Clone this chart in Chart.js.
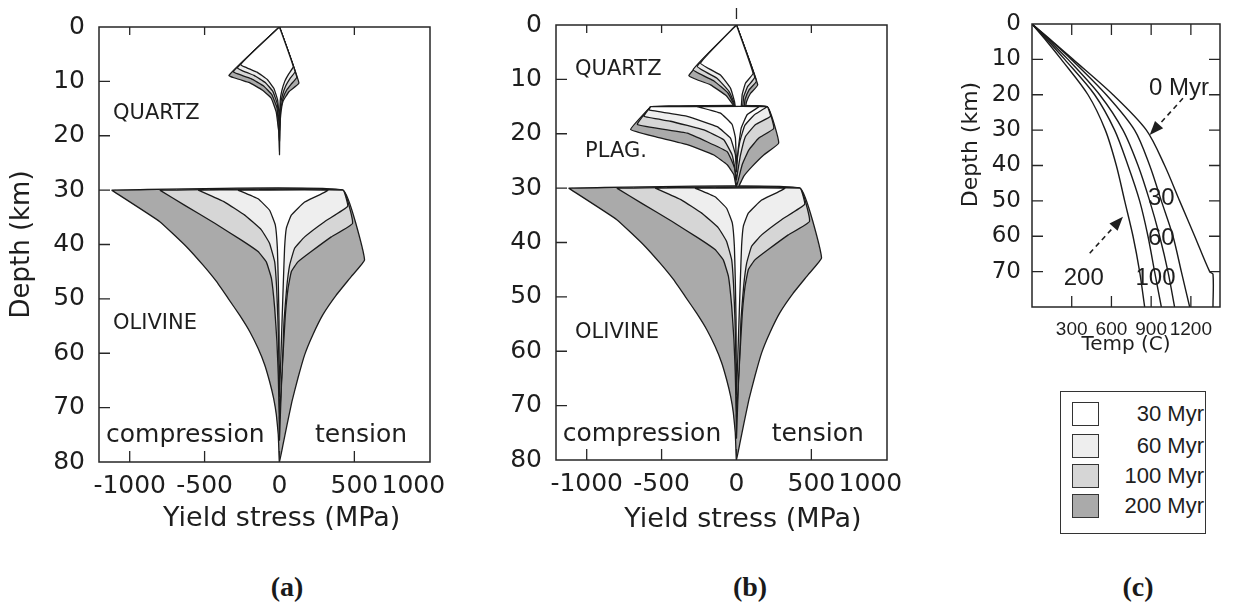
<!DOCTYPE html>
<html><head><meta charset="utf-8">
<script src="https://cdn.jsdelivr.net/npm/chart.js@4.4.1/dist/chart.umd.min.js"></script>
<style>
html,body{margin:0;padding:0;background:#fff;}
body{width:1233px;height:602px;position:relative;overflow:hidden;color:#1e1e1e;}
canvas{position:absolute;}
#ca{left:0;top:0;}
#cb{left:457px;top:0;}
#cc{left:940px;top:0;}
.panel{position:absolute;top:571px;line-height:32px;font-family:"Liberation Serif",serif;font-weight:bold;font-size:28px;transform:translateX(-50%);color:#1a1a1a;}
#legend{position:absolute;left:1060px;top:391px;width:146px;height:143px;border:1.5px solid #333;box-sizing:border-box;font-family:"Liberation Sans",sans-serif;font-size:22px;color:#1e1e1e;}
.row{position:absolute;left:11px;right:1px;height:24px;}
.sw{position:absolute;left:0;top:0;width:27px;height:24px;border:1.5px solid #333;box-sizing:border-box;}
.lab{position:absolute;right:0;top:0;line-height:24px;white-space:nowrap;}
</style></head>
<body>
<canvas id="ca" width="470" height="540"></canvas>
<canvas id="cb" width="470" height="538"></canvas>
<canvas id="cc" width="300" height="360"></canvas>
<div class="panel" style="left:287px">(a)</div>
<div class="panel" style="left:750px">(b)</div>
<div class="panel" style="left:1138px">(c)</div>
<div id="legend"></div>
<script>
// ---------------- data ----------------
const stressTicks = [-1000, -500, 0, 500, 1000];
const depthTicks = [0, 10, 20, 30, 40, 50, 60, 70, 80];
const tempTicks = [300, 600, 900, 1200];
const depthTicksC = [0, 10, 20, 30, 40, 50, 60, 70];
const legendAges = ['30 Myr', '60 Myr', '100 Myr', '200 Myr'];

// Olivine envelopes (stress MPa, depth km), same in (a) and (b)
const oliv200Comp = [[-1121,30],[-799,35.8],[-621,40.4],[-510,43.8],[-421,46.8],[-343,49.9],[-266,53.0],[-199,56.0],[-143,59.1],[-99,62.1],[-66,65.2],[-39,68.3],[-21,71.3],[-8,75.0],[0,80]];
const oliv200Tens = [[423,30],[568,42.8],[479,45.9],[379,49.3],[290,52.9],[223,56.6],[168,60.3],[123,64.6],[83,68.9],[50,73.2],[23,76.9],[0,80]];
const oliv100Comp = [[-799,30],[-632,32.8],[-432,36.1],[-254,39.2],[-143,41.3],[-88,43.2],[-54,46.2],[-32,51.7],[-17,57.9],[-8,64.0],[-2,71.3],[0,76]];
const oliv100Tens = [[423,30],[488,36.1],[346,38.6],[212,41.3],[123,43.2],[79,45.0],[57,48.1],[39,53.0],[26,59.1],[14,65.2],[6,71.3],[0,76]];
const oliv60Comp = [[-543,30],[-366,32.2],[-232,34.6],[-121,37.3],[-66,39.8],[-32,43.2],[-19,48.0],[-10,54.2],[-3,62.1],[0,72]];
const oliv60Tens = [[423,30],[455,33.0],[301,35.8],[168,38.6],[101,40.7],[68,43.8],[48,48.0],[30,54.2],[19,62.1],[0,72]];
const oliv30Comp = [[-277,30],[-143,31.6],[-66,33.7],[-28,36.4],[-14,40.7],[-8,46.8],[-3,54.2],[0,68]];
const oliv30Tens = [[323,30],[168,32.2],[79,34.6],[46,37.0],[34,40.7],[26,46.8],[17,54.2],[0,68]];

// Quartz envelopes, panel (a)
const quartzA200Comp = [[-337,8.9],[-203,10.2],[-115,11.6],[-55,13.1],[-22,15.6],[-5,19.2],[0,23.5]];
const quartzA200Tens = [[130,10.3],[63,11.9],[23,13.7],[8,16.2],[2,19.2],[0,23.5]];
const quartzA100Comp = [[-308,8.2],[-190,9.5],[-108,10.8],[-52,12.4],[-16,14.9],[0,21]];
const quartzA100Tens = [[116,9.2],[78,10.5],[50,11.5],[25,13.0],[7,15.3],[0,21]];
const quartzA60Comp = [[-281,7.5],[-170,8.9],[-95,10.2],[-45,11.8],[-14,14.2],[0,19]];
const quartzA60Tens = [[104,8.2],[70,9.5],[42,10.8],[20,12.5],[6,14.5],[0,19]];
const quartzA30Comp = [[-259,6.9],[-150,8.3],[-80,9.7],[-37,11.3],[-12,13.5],[0,17]];
const quartzA30Tens = [[92,7.3],[60,8.7],[35,10.0],[15,11.8],[5,13.5],[0,17]];

// Quartz envelopes, panel (b) (cut at 15 km)
const quartzB200Comp = [[-318,9.3],[-173,11.0],[-68,13.0],[-22,14.7],[-16,15]];
const quartzB200Tens = [[142,11.0],[93,12.6],[67,14.1],[60,15]];
const quartzB100Comp = [[-289,8.2],[-150,10.3],[-57,12.5],[-17,14.6],[-13,15]];
const quartzB100Tens = [[133,10.3],[85,11.9],[57,13.7],[50,15]];
const quartzB60Comp = [[-262,7.6],[-130,9.8],[-50,12.2],[-15,14.4],[-10,15]];
const quartzB60Tens = [[122,9.6],[75,11.3],[48,13.2],[40,15]];
const quartzB30Comp = [[-240,7.0],[-107,9.2],[-40,11.6],[-13,14.1],[-7,15]];
const quartzB30Tens = [[111,8.9],[60,10.7],[38,12.8],[31,15]];

// Plagioclase envelopes, panel (b)
const plag200Comp = [[-573,15],[-707,19.2],[-551,20.5],[-329,22.0],[-151,23.9],[-62,25.7],[-18,27.5],[0,30]];
const plag200Tens = [[204,15],[282,21.7],[182,23.9],[105,26.0],[49,27.8],[15,29.7],[0,30]];
const plag100Comp = [[-573,15],[-662,18.3],[-329,19.9],[-62,23.3],[-13,26.3],[0,29.7]];
const plag100Tens = [[204,15],[249,19.0],[149,20.8],[82,23.0],[38,25.7],[12,28.5],[0,29.7]];
const plag60Comp = [[-573,15],[-618,16.8],[-440,17.7],[-218,19.3],[-85,21.1],[-29,23.9],[-7,26.9],[0,28.5]];
const plag60Tens = [[204,15],[227,16.8],[127,18.3],[60,20.5],[27,23.9],[8,27],[0,28.5]];
const plag30Comp = [[-573,15],[-584,15.6],[-329,16.8],[-129,18.7],[-40,20.8],[-7,23.9],[0,27]];
const plag30Tens = [[204,15],[120,16.5],[55,18.5],[22,21.5],[6,24.5],[0,27]];
const plag0Comp = [[-262,15],[-107,16.2],[-29,18.3],[-7,20.8],[0,25.5]];
const plag0Tens = [[149,15],[71,16.5],[31,19.0],[12,22.7],[0,25.5]];

// Geotherms, panel (c): [temperature C, depth km]
const geotherm0 = [[0,0],[158,5],[310,10],[612,20],[864,30],[1002,40],[1115,50],[1229,60],[1342,70],[1367,70.7],[1367,80]];
const geotherm30 = [[0,0],[151,5],[297,10],[561,20],[775,30],[889,40],[977,50],[1065,60],[1128,70],[1191,80]];
const geotherm60 = [[0,0],[139,5],[272,10],[511,20],[687,30],[801,40],[889,50],[964,60],[1027,70],[1077,80]];
const geotherm100 = [[0,0],[127,5],[247,10],[473,20],[624,30],[725,40],[813,50],[876,60],[926,70],[977,80]];
const geotherm200 = [[0,0],[114,5],[221,10],[423,20],[554,30],[637,40],[700,50],[763,60],[813,70],[851,80]];

// ---------------- styles ----------------
const ageFill = {0:'#ffffff', 30:'#ffffff', 60:'#eeeeee', 100:'#d6d6d6', 200:'#aaaaaa'};
const ageOrder = {0:0, 30:1, 60:2, 100:3, 200:4};
const ink = '#1e1e1e';

function poly(comp, tens, apex) {
  const pts = [];
  if (apex) pts.push(apex);
  comp.forEach(p => pts.push(p));
  tens.slice().reverse().forEach(p => {
    const l = pts[pts.length - 1];
    if (l[0] !== p[0] || l[1] !== p[1]) pts.push(p);
  });
  pts.push(pts[0]);
  return pts.map(p => ({x: p[0], y: p[1]}));
}
function env(age, comp, tens, apex) {
  return {data: poly(comp, tens, apex), fill: 'shape', backgroundColor: ageFill[age],
    borderColor: '#1b1b1b', borderWidth: 1.3, borderJoinStyle: 'round', pointRadius: 0,
    tension: 0.1, order: ageOrder[age]};
}

const decor = (cfg) => ({
  id: 'decor',
  afterDraw(chart) {
    const {ctx, chartArea: a, scales: {x, y}} = chart;
    ctx.save();
    ctx.strokeStyle = '#262626'; ctx.lineWidth = 1.5;
    ctx.strokeRect(a.left, a.top, a.right - a.left, a.bottom - a.top);
    ctx.lineWidth = 1.3;
    ctx.beginPath();
    const t = cfg.ticks;
    (t.bottom || []).forEach(v => { const p = x.getPixelForValue(v); ctx.moveTo(p, a.bottom); ctx.lineTo(p, a.bottom - t.len); });
    (t.top || []).forEach(v => { const p = x.getPixelForValue(v); ctx.moveTo(p, a.top); ctx.lineTo(p, a.top + t.lenTop); });
    (t.left || []).forEach(v => { const p = y.getPixelForValue(v); ctx.moveTo(a.left, p); ctx.lineTo(a.left + t.len, p); });
    (t.right || []).forEach(v => { const p = y.getPixelForValue(v); ctx.moveTo(a.right, p); ctx.lineTo(a.right - t.len, p); });
    (t.outsideTop || []).forEach(v => { const p = x.getPixelForValue(v); ctx.moveTo(p, a.top - 17); ctx.lineTo(p, a.top - 6); });
    ctx.stroke();
    (cfg.texts || []).forEach(tx => {
      ctx.font = tx.font; ctx.fillStyle = ink; ctx.textAlign = tx.align || 'left'; ctx.textBaseline = 'alphabetic';
      ctx.fillText(tx.text, x.getPixelForValue(tx.x), y.getPixelForValue(tx.y));
    });
    (cfg.arrows || []).forEach(ar => {
      const x0 = x.getPixelForValue(ar.from[0]), y0 = y.getPixelForValue(ar.from[1]);
      const x1 = x.getPixelForValue(ar.to[0]), y1 = y.getPixelForValue(ar.to[1]);
      const ang = Math.atan2(y1 - y0, x1 - x0), head = 14, hw = 5.5;
      const bx = x1 - head * Math.cos(ang), by = y1 - head * Math.sin(ang);
      ctx.strokeStyle = ink; ctx.setLineDash([5, 4]); ctx.lineWidth = 1.6;
      ctx.beginPath(); ctx.moveTo(x0, y0); ctx.lineTo(bx, by); ctx.stroke();
      ctx.setLineDash([]);
      ctx.beginPath(); ctx.moveTo(x1, y1);
      ctx.lineTo(bx + hw * Math.sin(ang), by - hw * Math.cos(ang));
      ctx.lineTo(bx - hw * Math.sin(ang), by + hw * Math.cos(ang));
      ctx.closePath(); ctx.fillStyle = ink; ctx.fill();
    });
    ctx.restore();
  }
});

function stressScales(opt) {
  return {
    x: {type: 'linear', min: -1205, max: 1005,
      afterBuildTicks: s => { s.ticks = stressTicks.map(v => ({value: v})); },
      afterFit: s => { s.height = 78; s.paddingLeft = 0; s.paddingRight = 0; },
      grid: {display: false}, border: {display: false},
      ticks: {autoSkip: false, maxRotation: 0, padding: 1, color: ink, font: {family: 'DejaVu Sans', size: 25},
        callback: v => v === 1000 ? '1000' + '\u00a0'.repeat(4) : String(v)},
      title: {display: true, text: '\u00a0'.repeat(opt.shift) + 'Yield stress (MPa)', color: ink,
        font: {family: 'DejaVu Sans', size: 27}, padding: {top: 0, bottom: opt.titlePad}}},
    y: {type: 'linear', reverse: true, min: 0, max: 80,
      afterBuildTicks: s => { s.ticks = depthTicks.map(v => ({value: v})); },
      afterFit: s => { s.width = 99; s.paddingTop = 0; s.paddingBottom = 0; },
      grid: {display: false}, border: {display: false},
      ticks: {autoSkip: false, padding: 6, color: ink, font: {family: 'DejaVu Sans', size: 25}, callback: v => String(v)},
      title: {display: opt.yTitle, text: 'Depth (km)', color: ink, font: {family: 'DejaVu Sans', size: 26}, padding: {top: 7, bottom: 0}}}
  };
}
const baseOpts = {responsive: false, animation: false, events: [],
  plugins: {legend: {display: false}, tooltip: {enabled: false}}};

const capFont = '21px "DejaVu Sans"', lowFont = '25px "DejaVu Sans"';

// ---- panel (a)
const dsA = [
  env(200, quartzA200Comp, quartzA200Tens, [0,0]), env(100, quartzA100Comp, quartzA100Tens, [0,0]),
  env(60, quartzA60Comp, quartzA60Tens, [0,0]), env(30, quartzA30Comp, quartzA30Tens, [0,0]),
  env(200, oliv200Comp, oliv200Tens), env(100, oliv100Comp, oliv100Tens),
  env(60, oliv60Comp, oliv60Tens), env(30, oliv30Comp, oliv30Tens)
];
new Chart(document.getElementById('ca'), {
  type: 'line', data: {datasets: dsA},
  options: Object.assign({}, baseOpts, {layout: {padding: {top: 27, right: 40, left: 0, bottom: 0}},
    scales: stressScales({shift: 4, titlePad: 5, yTitle: true})}),
  plugins: [decor({
    ticks: {len: 11, lenTop: 8, bottom: [-1000, -500, 0, 500], top: [-1000, -500, 500], left: [10, 20, 30, 40, 50, 60, 70]},
    texts: [
      {text: 'QUARTZ', x: -1111, y: 16.9, font: capFont},
      {text: 'OLIVINE', x: -1111, y: 55.5, font: capFont},
      {text: 'compression', x: -1158, y: 76.3, font: lowFont},
      {text: 'tension', x: 237, y: 76.3, font: lowFont}
    ]})]
});

// ---- panel (b)
const dsB = [
  env(200, quartzB200Comp, quartzB200Tens, [0,0]), env(100, quartzB100Comp, quartzB100Tens, [0,0]),
  env(60, quartzB60Comp, quartzB60Tens, [0,0]), env(30, quartzB30Comp, quartzB30Tens, [0,0]),
  env(200, plag200Comp, plag200Tens), env(100, plag100Comp, plag100Tens),
  env(60, plag60Comp, plag60Tens), env(30, plag30Comp, plag30Tens), env(0, plag0Comp, plag0Tens),
  env(200, oliv200Comp, oliv200Tens), env(100, oliv100Comp, oliv100Tens),
  env(60, oliv60Comp, oliv60Tens), env(30, oliv30Comp, oliv30Tens)
];
new Chart(document.getElementById('cb'), {
  type: 'line', data: {datasets: dsB},
  options: Object.assign({}, baseOpts, {layout: {padding: {top: 25, right: 40, left: 0, bottom: 0}},
    scales: stressScales({shift: 5, titlePad: 2, yTitle: false})}),
  plugins: [decor({
    ticks: {len: 11, lenTop: 8, bottom: [-1000, -500, 0, 500], top: [-1000, -500, 500], outsideTop: [0], left: [10, 20, 30, 40, 50, 60, 70]},
    texts: [
      {text: 'QUARTZ', x: -1078, y: 9.2, font: capFont},
      {text: 'PLAG.', x: -1011, y: 24.2, font: capFont},
      {text: 'OLIVINE', x: -1078, y: 57.6, font: capFont},
      {text: 'compression', x: -1160, y: 76.5, font: lowFont},
      {text: 'tension', x: 235, y: 76.5, font: lowFont}
    ]})]
});

// ---- panel (c)
const lineDs = g => ({data: g.map(p => ({x: p[0], y: p[1]})), fill: false, borderColor: '#1b1b1b', borderWidth: 1.4, pointRadius: 0, tension: 0.3});
const labFont = '24px "Liberation Sans"';
new Chart(document.getElementById('cc'), {
  type: 'line',
  data: {datasets: [lineDs(geotherm0), lineDs(geotherm30), lineDs(geotherm60), lineDs(geotherm100), lineDs(geotherm200)]},
  options: Object.assign({}, baseOpts, {layout: {padding: {top: 24, right: 20, left: 0, bottom: 0}},
    scales: {
      x: {type: 'linear', min: 0, max: 1420,
        afterBuildTicks: s => { s.ticks = tempTicks.map(v => ({value: v})); },
        afterFit: s => { s.height = 53; s.paddingLeft = 0; s.paddingRight = 0; },
        grid: {display: false}, border: {display: false},
        ticks: {autoSkip: false, maxRotation: 0, padding: 3, color: ink, font: {family: 'Liberation Sans', size: 19}, callback: v => String(v)},
        title: {display: true, text: 'Temp (C)', color: ink, font: {family: 'DejaVu Sans', size: 20}, padding: {top: 0, bottom: 3}}},
      y: {type: 'linear', reverse: true, min: 0, max: 80,
        afterBuildTicks: s => { s.ticks = depthTicksC.map(v => ({value: v})); },
        afterFit: s => { s.width = 92; s.paddingTop = 0; s.paddingBottom = 0; },
        grid: {display: false}, border: {display: false},
        ticks: {autoSkip: false, padding: 3, color: ink, font: {family: 'DejaVu Sans', size: 23}, callback: v => String(v)},
        title: {display: true, text: '\u00a0'.repeat(6) + 'Depth (km)', color: ink, font: {family: 'DejaVu Sans', size: 22}, padding: {top: 18, bottom: 0}}}
    }}),
  plugins: [decor({
    ticks: {len: 11, lenTop: 11, bottom: tempTicks, top: tempTicks, left: [10, 20, 30, 40, 50, 60, 70], right: [10, 20, 30, 40, 50, 60, 70]},
    texts: [
      {text: '0 Myr', x: 1110, y: 20.1, font: labFont, align: 'center'},
      {text: '30', x: 977, y: 51.2, font: labFont, align: 'center'},
      {text: '60', x: 977, y: 62.5, font: labFont, align: 'center'},
      {text: '100', x: 933, y: 73.8, font: labFont, align: 'center'},
      {text: '200', x: 391, y: 73.8, font: labFont, align: 'center'}
    ],
    arrows: [{from: [1140, 21.0], to: [889, 31.4]}, {from: [436, 64.8], to: [687, 54.5]}]
  })]
});

// ---- legend (c)
const legendFills = ['#ffffff', '#eeeeee', '#d6d6d6', '#aaaaaa'];
const legendTops = [10, 42, 72, 102];
const lg = document.getElementById('legend');
legendAges.forEach((name, i) => {
  const r = document.createElement('div'); r.className = 'row'; r.style.top = legendTops[i] + 'px';
  const s = document.createElement('div'); s.className = 'sw'; s.style.background = legendFills[i];
  const l = document.createElement('div'); l.className = 'lab'; l.textContent = name;
  r.appendChild(s); r.appendChild(l); lg.appendChild(r);
});
</script>
</body></html>
